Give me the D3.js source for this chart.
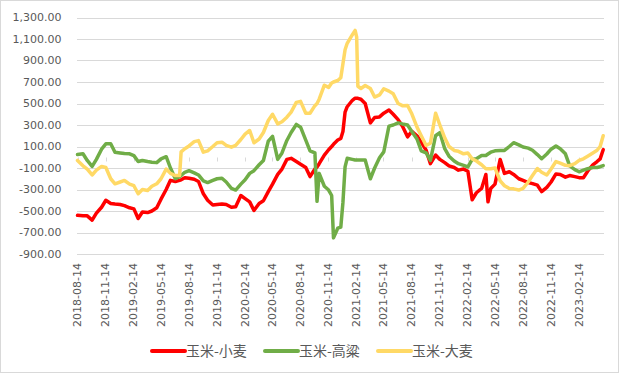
<!DOCTYPE html>
<html lang="zh">
<head>
  <meta charset="UTF-8">
  <title>玉米价差</title>
  <script src="https://d3js.org/d3.v7.min.js"></script>
  <style>
    body { margin: 0; background: #fff; }
    svg { display: block; }
    .grid line { stroke: #d9d9d9; stroke-width: 1px; }
    .ylab, .xlab { font: 11px "DejaVu Sans", sans-serif; fill: #595959; }
    .legend text { font: 14px "Noto Sans CJK SC", sans-serif; fill: #595959; }
    .series { fill: none; stroke-width: 3.5px; stroke-linejoin: round; stroke-linecap: round; }
  </style>
</head>
<body>
  <svg width="620" height="374"></svg>

  <script>
    const width = 620;
    const height = 374;

    // 日期（半月取值，陡峭处加密）
    const dates = [
      "2018-08-14","2018-09-01","2018-09-15","2018-10-01","2018-10-15","2018-11-01","2018-11-15","2018-12-01","2018-12-15",
      "2019-01-01","2019-01-15","2019-02-01","2019-02-15","2019-03-01","2019-03-15","2019-04-01","2019-04-15","2019-05-01",
      "2019-05-15","2019-06-01","2019-06-15","2019-07-01","2019-07-15","2019-07-20","2019-08-01","2019-08-15","2019-09-01",
      "2019-09-15","2019-10-01","2019-10-15","2019-11-01","2019-11-15","2019-12-01","2019-12-15","2020-01-01","2020-01-15",
      "2020-02-01","2020-02-15","2020-03-01","2020-03-15","2020-04-01","2020-04-15","2020-05-01","2020-05-15","2020-06-01",
      "2020-06-15","2020-07-01","2020-07-15","2020-08-01","2020-08-15","2020-09-01","2020-09-15","2020-10-01","2020-10-08",
      "2020-10-15","2020-11-01","2020-11-15","2020-11-25","2020-12-01","2020-12-15","2020-12-25","2021-01-01","2021-01-08",
      "2021-01-15","2021-02-01","2021-02-10","2021-02-15","2021-02-19","2021-03-01","2021-03-15","2021-04-01","2021-04-15",
      "2021-05-01","2021-05-15","2021-06-01","2021-06-15","2021-07-01","2021-07-15","2021-08-01","2021-08-15","2021-09-01",
      "2021-09-15","2021-10-01","2021-10-15","2021-11-01","2021-11-15","2021-12-01","2021-12-15","2022-01-01","2022-01-15",
      "2022-02-01","2022-02-15","2022-03-01","2022-03-15","2022-04-01","2022-04-15","2022-04-22","2022-05-01","2022-05-15",
      "2022-06-01","2022-06-15","2022-07-01","2022-07-15","2022-08-01","2022-08-15","2022-09-01","2022-09-15","2022-10-01",
      "2022-10-15","2022-11-01","2022-11-15","2022-12-01","2022-12-15","2023-01-01","2023-01-15","2023-02-01","2023-02-15",
      "2023-03-01","2023-03-15","2023-04-01","2023-04-15","2023-04-25","2023-05-05"
    ];

    // 玉米-小麦
    const cornWheat = [
      -540,-545,-545,-585,-520,-465,-400,-430,-435,
      -440,-450,-470,-480,-570,-510,-515,-500,-470,
      -390,-300,-215,-225,-215,-210,-190,-195,-205,
      -225,-340,-400,-445,-440,-435,-440,-465,-460,
      -356,-385,-415,-495,-430,-405,-320,-250,-160,
      -110,-20,-10,-40,-65,-95,-180,-110,-90,
      -60,20,70,100,120,160,175,240,420,
      470,530,550,550,548,540,500,320,370,
      375,410,440,400,350,290,190,240,200,
      140,65,-60,20,-20,-50,-80,-95,-120,
      -110,-130,-395,-330,-290,-160,-415,-290,-250,
      -20,-150,-135,-160,-200,-215,-235,-245,-260,
      -320,-280,-230,-155,-160,-185,-170,-180,-190,
      -190,-130,-70,-40,-15,70
    ];

    // 玉米-高粱
    const cornSorghum = [
      25,32,-30,-85,-20,75,125,125,47,
      40,35,32,15,-40,-30,-40,-46,-50,
      -15,5,-100,-200,-180,-170,-140,-125,-145,
      -165,-220,-235,-215,-200,-195,-230,-290,-305,
      -250,-210,-150,-125,-70,-30,150,195,-20,
      40,156,230,305,280,160,60,40,-410,
      -150,-270,-305,-356,-750,-660,-650,-420,-90,
      -10,-20,-25,-25,-25,-25,-25,-200,-100,
      -5,50,290,300,320,310,300,240,170,
      60,40,-30,200,230,80,10,-35,-60,
      -75,-90,-20,-14,16,16,30,47,60,
      63,63,100,135,115,95,85,65,25,
      -14,30,75,105,80,32,-80,-115,-135,
      -120,-107,-95,-95,-88,-77
    ];

    // 玉米-大麦
    const cornBarley = [
      -30,-80,-110,-165,-120,-85,-95,-200,-247,
      -230,-216,-250,-265,-340,-300,-309,-270,-247,
      -200,-110,-150,-170,-170,50,79,105,145,
      155,47,60,100,135,140,110,94,110,
      165,215,249,135,170,230,342,400,311,
      330,373,420,510,520,410,410,480,500,
      540,670,650,690,700,714,740,870,1000,
      1060,1140,1180,1120,660,640,667,640,560,
      580,637,615,590,500,480,481,404,280,
      200,110,130,410,300,180,100,63,55,
      32,40,-15,-35,-70,-107,-107,-107,-100,
      -220,-265,-290,-294,-305,-290,-230,-170,-105,
      -140,-165,-110,-40,-55,-75,-78,-60,-30,
      -14,10,40,65,100,200
    ];

    const seriesNames = ["玉米-小麦", "玉米-高粱", "玉米-大麦"];
    const seriesColors = ["#ff0000", "#70ad47", "#ffd966"];
    const tickLabels = [
      "2018-08-14","2018-11-14","2019-02-14","2019-05-14","2019-08-14","2019-11-14","2020-02-14",
      "2020-05-14","2020-08-14","2020-11-14","2021-02-14","2021-05-14","2021-08-14","2021-11-14",
      "2022-02-14","2022-05-14","2022-08-14","2022-11-14","2023-02-14"
    ];
    const yTicks = [-900, -700, -500, -300, -100, 100, 300, 500, 700, 900, 1100, 1300];

    const parse = d3.utcParse("%Y-%m-%d");
    const fmt = d3.formatLocale({decimal: ".", thousands: ",", grouping: [3], currency: ["", ""], minus: "-"}).format(",.2f");

    const svg = d3.select("svg").attr("width", width).attr("height", height);

    svg.append("rect")
       .attr("x", 0.5).attr("y", 0.5)
       .attr("width", width - 2).attr("height", height - 2)
       .attr("fill", "#fff").attr("stroke", "#d9d9d9");

    const x = d3.scaleUtc()
                .domain([parse("2018-08-14"), parse("2023-05-06")])
                .range([77.5, 603.5]);
    const y = d3.scaleLinear().domain([-900, 1300]).range([254, 17.5]);

    // 网格线
    svg.append("g").attr("class", "grid")
       .selectAll("line")
       .data(yTicks)
       .join("line")
       .attr("x1", 77).attr("x2", 604)
       .attr("y1", d => Math.round(y(d)) + 0.5)
       .attr("y2", d => Math.round(y(d)) + 0.5);

    // 纵轴标签
    svg.append("g")
       .selectAll("text")
       .data(yTicks)
       .join("text")
       .attr("class", "ylab")
       .attr("x", 61.5)
       .attr("y", d => y(d))
       .attr("dy", "0.35em")
       .attr("text-anchor", "end")
       .text(d => fmt(d));

    // 横轴刻度（在 0 值处）
    const y0 = Math.round(y(0)) + 0.5;
    svg.append("g").attr("class", "grid")
       .selectAll("line")
       .data(tickLabels)
       .join("line")
       .attr("x1", d => Math.round(x(parse(d))) + 0.5)
       .attr("x2", d => Math.round(x(parse(d))) + 0.5)
       .attr("y1", y0).attr("y2", y0 + 4);

    // 横轴标签（竖排）
    svg.append("g")
       .selectAll("text")
       .data(tickLabels)
       .join("text")
       .attr("class", "xlab")
       .attr("transform", d => `translate(${x(parse(d))}, 263) rotate(-90)`)
       .attr("dy", "0.35em")
       .attr("text-anchor", "end")
       .text(d => d);

    const line = d3.line()
                   .x((d, i) => x(parse(dates[i])))
                   .y(d => y(d));

    const series = [cornWheat, cornSorghum, cornBarley];
    svg.append("g")
       .selectAll("path")
       .data(series)
       .join("path")
       .attr("class", "series")
       .attr("stroke", (d, i) => seriesColors[i])
       .attr("d", d => line(d));

    // 图例
    const legend = svg.append("g").attr("class", "legend")
                      .selectAll("g")
                      .data(seriesNames)
                      .join("g")
                      .attr("transform", (d, i) => `translate(${152 + i * 113}, 351)`);

    legend.append("line")
          .attr("x1", 0).attr("x2", 33)
          .attr("stroke", (d, i) => seriesColors[i])
          .attr("stroke-width", 4)
          .attr("stroke-linecap", "round");

    legend.append("text")
          .attr("x", 34)
          .attr("dy", "0.35em")
          .text(d => d);
  </script>
</body>
</html>
